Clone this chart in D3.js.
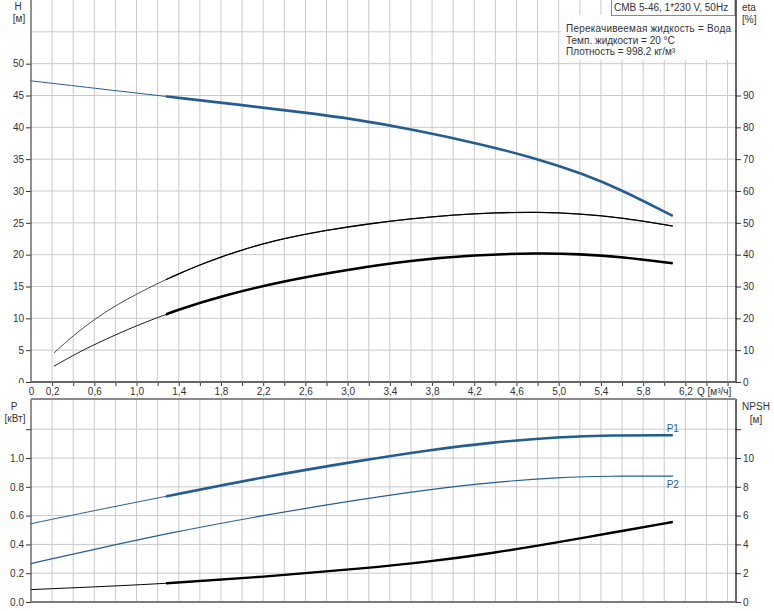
<!DOCTYPE html>
<html><head><meta charset="utf-8">
<script src="https://cdn.jsdelivr.net/npm/d3@7"></script>
<style>
html,body{margin:0;padding:0;background:#fff;}
svg{display:block;font-family:"Liberation Sans",Arial,sans-serif;}
</style></head><body>
<svg id="chart" width="774" height="611"></svg>
<script>
// ---- data ----
const qH = [0, 0.6, 1.28, 2.0, 2.6, 3.02, 3.65, 4.28, 4.79, 5.23, 5.58, 6.08];
const headH = [47.3, 46.15, 44.85, 43.5, 42.3, 41.4, 39.6, 37.3, 35.1, 32.7, 30.3, 26.1];

const qEtaPump = [0.22, 0.4, 0.6, 0.8, 1.0, 1.2, 1.4, 1.6, 1.8, 2.0, 2.2, 2.4, 2.8, 3.2, 3.6, 4.0, 4.4, 4.8, 5.2, 5.6, 6.08];
const etaPump = [9.2, 14.6, 19.7, 24.0, 27.6, 31.0, 34.0, 36.8, 39.3, 41.5, 43.4, 45.1, 47.7, 49.7, 51.3, 52.5, 53.2, 53.4, 52.9, 51.6, 49.0];
const qEtaTotal = [0.22, 0.4, 0.6, 1.0, 1.4, 1.8, 2.4, 3.0, 3.6, 4.2, 4.8, 5.2, 5.6, 6.08];
const etaTotal = [5.0, 8.4, 11.8, 17.8, 22.8, 27.0, 31.8, 35.3, 38.2, 39.9, 40.5, 40.2, 39.3, 37.3];

const qP = [0, 0.6, 1.28, 2.2, 3.12, 3.75, 4.38, 5.01, 5.48, 6.08];
const powerP1 = [0.544, 0.635, 0.734, 0.868, 0.982, 1.053, 1.111, 1.146, 1.158, 1.158];
const powerP2 = [0.267, 0.365, 0.475, 0.602, 0.713, 0.780, 0.833, 0.866, 0.875, 0.875];
const npsh = [0.86, 1.05, 1.28, 1.74, 2.32, 2.78, 3.40, 4.17, 4.78, 5.56];

const qLabelTicks = [0, 0.2, 0.6, 1.0, 1.4, 1.8, 2.2, 2.6, 3.0, 3.4, 3.8, 4.2, 4.6, 5.0, 5.4, 5.8, 6.2];
const hTicks = [0, 5, 10, 15, 20, 25, 30, 35, 40, 45, 50];
const etaTicks = [0, 10, 20, 30, 40, 50, 60, 70, 80, 90];
const pTicks = [0, 0.2, 0.4, 0.6, 0.8, 1.0, 1.2];
const npshTicks = [0, 2, 4, 6, 8, 10, 12];
const rangeStart = 1.28;

const infoTitle = "CMB 5-46, 1*230 V, 50Hz";
const infoLines = ["Перекачивеемая жидкость = Вода", "Темп. жидкости = 20 °C", "Плотность = 998.2 кг/м³"];

// ---- layout ----
const L = 31, R = 736;
const topY0 = 382, topY1 = 0;
const botY0 = 602, botY1 = 399;
const svg = d3.select("#chart");
const font = 10, txt = "#333";
const blue = "#245e90";

const x = d3.scaleLinear().domain([0, 6.68]).range([L, R]);
const yH = d3.scaleLinear().domain([0, 60]).range([topY0, topY1]);
const yEta = d3.scaleLinear().domain([0, 120]).range([topY0, topY1]);
const yP = d3.scaleLinear().domain([0, 1.41]).range([botY0, botY1]);
const yN = d3.scaleLinear().domain([0, 14.1]).range([botY0, botY1]);

const gridC = "#cacaca";
const xGrid = d3.range(1, 34).map(i => i * 0.2);
[[topY1, topY0], [botY1, botY0]].forEach(([a, b]) => {
  svg.append("g").selectAll("line").data(xGrid).join("line")
    .attr("x1", d => x(d)).attr("x2", d => x(d)).attr("y1", a).attr("y2", b)
    .attr("stroke", gridC).attr("stroke-width", 1);
});
svg.append("g").selectAll("line").data(d3.range(1, 12).map(i => i * 5)).join("line")
  .attr("x1", L).attr("x2", R).attr("y1", d => yH(d)).attr("y2", d => yH(d))
  .attr("stroke", gridC).attr("stroke-width", 1);
svg.append("g").selectAll("line").data([0.2, 0.4, 0.6, 0.8, 1.0, 1.2]).join("line")
  .attr("x1", L).attr("x2", R).attr("y1", d => yP(d)).attr("y2", d => yP(d))
  .attr("stroke", gridC).attr("stroke-width", 1);

// info area backdrop
svg.append("rect").attr("x", 562).attr("y", 15).attr("width", R - 562 - 1).attr("height", 45).attr("fill", "#fff");
svg.append("rect").attr("x", 611.5).attr("y", -1).attr("width", R - 611.5 - 1).attr("height", 16.5)
  .attr("fill", "#fff").attr("stroke", "#8a8a8a").attr("stroke-width", 1);
svg.append("text").attr("x", 614).attr("y", 11).attr("font-size", font).attr("fill", txt).text(infoTitle);
svg.selectAll("text.info").data(infoLines).join("text").attr("class", "info")
  .attr("x", 566).attr("y", (d, i) => 32 + i * 11.7).attr("font-size", font).attr("fill", txt)
  .attr("textLength", (d, i) => i === 0 ? 165 : null).text(d => d);

// clip for operating range (thick part)
const defs = svg.append("defs");
defs.append("clipPath").attr("id", "opTop").append("rect")
  .attr("x", x(rangeStart)).attr("y", 0).attr("width", R - x(rangeStart)).attr("height", topY0);
defs.append("clipPath").attr("id", "opBot").append("rect")
  .attr("x", x(rangeStart)).attr("y", botY1).attr("width", R - x(rangeStart)).attr("height", botY0 - botY1);

function drawCurve(qs, vs, ys, color, thinW, thickW, clip) {
  const pts = qs.map((q, i) => [q, vs[i]]);
  const line = d3.line().x(d => x(d[0])).y(d => ys(d[1])).curve(d3.curveBasis);
  svg.append("path").attr("d", line(pts)).attr("fill", "none").attr("stroke", color)
    .attr("stroke-width", thinW).attr("stroke-linecap", "round");
  if (thickW) {
    svg.append("path").attr("d", line(pts)).attr("fill", "none").attr("stroke", color)
      .attr("stroke-width", thickW).attr("clip-path", `url(#${clip})`);
  }
}
drawCurve(qH, headH, yH, blue, 1, 2.6, "opTop");
drawCurve(qEtaPump, etaPump, yEta, "#000", 0.7, 1.3, "opTop");
drawCurve(qEtaTotal, etaTotal, yEta, "#000", 0.9, 2.6, "opTop");
drawCurve(qP, powerP1, yP, blue, 1, 2.6, "opBot");
drawCurve(qP, powerP2, yP, blue, 1.2, 0, null);
drawCurve(qP, npsh, yN, "#000", 1, 2.4, "opBot");

svg.append("text").attr("x", x(qP[qP.length - 1]) - 6).attr("y", yP(powerP1[powerP1.length - 1]) - 3)
  .attr("font-size", font).attr("fill", blue).text("P1");
svg.append("text").attr("x", x(qP[qP.length - 1]) - 6).attr("y", yP(powerP2[powerP2.length - 1]) + 12)
  .attr("font-size", font).attr("fill", blue).text("P2");

// axes
function styleAxis(g) {
  g.select(".domain").remove();
  g.selectAll("line").attr("stroke", "#333");
  g.selectAll("text").attr("font-size", font).attr("fill", txt).attr("font-family", "Liberation Sans, Arial, sans-serif");
}
svg.append("g").attr("transform", `translate(${L},0)`)
  .call(d3.axisLeft(yH).tickValues(hTicks).tickSize(5).tickPadding(2).tickFormat(d3.format("d"))).call(styleAxis);
svg.append("g").attr("transform", `translate(${R},0)`)
  .call(d3.axisRight(yEta).tickValues(etaTicks).tickSize(5).tickPadding(2).tickFormat(d3.format("d"))).call(styleAxis);
svg.append("g").attr("transform", `translate(${L},0)`)
  .call(d3.axisLeft(yP).tickValues(pTicks).tickSize(5).tickPadding(2).tickFormat(d => d === 1.2 ? "" : d3.format(".1f")(d))).call(styleAxis);
svg.append("g").attr("transform", `translate(${R},0)`)
  .call(d3.axisRight(yN).tickValues(npshTicks).tickSize(5).tickPadding(2).tickFormat(d => d === 12 ? "" : d)).call(styleAxis);

// x axis band
svg.append("rect").attr("x", 0).attr("y", topY0 + 1).attr("width", R + 1).attr("height", botY1 - topY0 - 2).attr("fill", "#fff");
svg.append("g").attr("transform", `translate(0,${topY0})`)
  .call(d3.axisBottom(x).tickValues(xGrid).tickSize(4).tickFormat("")).call(styleAxis);
svg.append("g").attr("transform", `translate(0,${topY0})`)
  .call(d3.axisBottom(x).tickValues(qLabelTicks).tickSize(0).tickPadding(6)
    .tickFormat(d => d === 0 ? "0" : d3.format(".1f")(d).replace(".", ","))).call(styleAxis);
svg.append("text").attr("x", 697).attr("y", 395).attr("font-size", font).attr("fill", txt)
  .text("Q [м³/ч]");

// frame lines
svg.append("line").attr("x1", L).attr("x2", L).attr("y1", 0).attr("y2", topY0).attr("stroke", "#555").attr("stroke-width", 1.3);
svg.append("line").attr("x1", R).attr("x2", R).attr("y1", 0).attr("y2", topY0).attr("stroke", "#111").attr("stroke-width", 1.3);
svg.append("line").attr("x1", L).attr("x2", L).attr("y1", botY1).attr("y2", botY0).attr("stroke", "#555").attr("stroke-width", 1.3);
svg.append("line").attr("x1", R).attr("x2", R).attr("y1", botY1).attr("y2", botY0).attr("stroke", "#111").attr("stroke-width", 1.3);
svg.append("line").attr("x1", L).attr("x2", R).attr("y1", topY0).attr("y2", topY0).attr("stroke", "#666").attr("stroke-width", 2);
svg.append("line").attr("x1", L).attr("x2", R).attr("y1", botY1).attr("y2", botY1).attr("stroke", "#8a8a8a").attr("stroke-width", 2);
svg.append("line").attr("x1", L).attr("x2", R).attr("y1", botY0).attr("y2", botY0).attr("stroke", "#7a7a7a").attr("stroke-width", 2);

// axis titles
const titles = [
  ["H", 18, 10, "middle"], ["[м]", 19, 22, "middle"],
  ["eta", 742, 11, "start"], ["[%]", 742, 23, "start"],
  ["P", 14, 410, "middle"], ["[кВт]", 15, 422, "middle"],
  ["NPSH", 756, 410, "middle"], ["[м]", 756, 423, "middle"]
];
svg.selectAll("text.ttl").data(titles).join("text").attr("class", "ttl")
  .attr("x", d => d[1]).attr("y", d => d[2]).attr("text-anchor", d => d[3])
  .attr("font-size", font).attr("fill", txt).text(d => d[0]);
</script>
</body></html>
